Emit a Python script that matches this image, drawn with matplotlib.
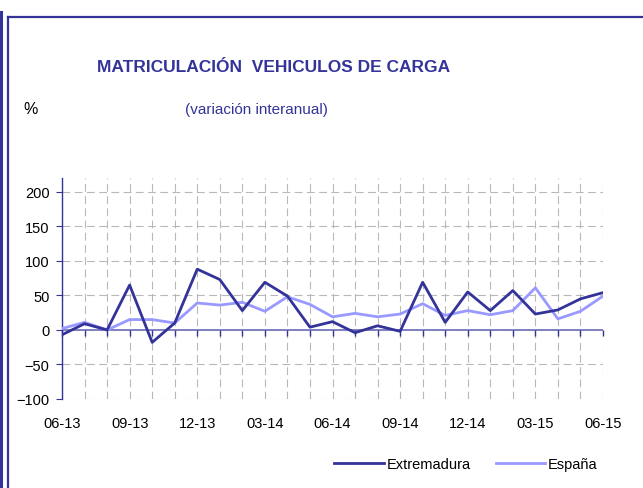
import matplotlib
matplotlib.use('Agg')
import matplotlib.pyplot as plt
from matplotlib.lines import Line2D
from matplotlib.markers import TICKDOWN

plt.rcParams['font.family'] = ['Liberation Sans', 'DejaVu Sans']

# datos (variación interanual, %)
meses = ['06-13', '07-13', '08-13', '09-13', '10-13', '11-13', '12-13',
         '01-14', '02-14', '03-14', '04-14', '05-14', '06-14', '07-14',
         '08-14', '09-14', '10-14', '11-14', '12-14', '01-15', '02-15',
         '03-15', '04-15', '05-15', '06-15']
extremadura = [-7, 9, 0, 65, -18, 10, 88, 73, 28, 69, 49, 4, 12,
               -4, 6, -2, 69, 11, 55, 28, 57, 23, 29, 45, 54]
espana = [2, 11, 0, 15, 15, 10, 39, 36, 40, 27, 48, 37, 19,
          24, 19, 23, 38, 21, 28, 22, 28, 61, 16, 27, 49]
yticks = [-100, -50, 0, 50, 100, 150, 200]

AZUL = '#333399'
AZUL_CLARO = '#9999ff'

W, H = 643, 489
fig = plt.figure(figsize=(W / 100, H / 100), dpi=100)

# marco
fig.add_artist(Line2D([1 / W, 1 / W], [0, 1 - 13 / H], color=AZUL, lw=2.2))
fig.add_artist(Line2D([7.5 / W, 7.5 / W], [0, 1 - 17.5 / H], color=AZUL, lw=1.6))
fig.add_artist(Line2D([7.5 / W, 1], [1 - 17.5 / H, 1 - 17.5 / H], color=AZUL, lw=1.6))

ax = fig.add_axes([62 / W, 1 - 400 / H, 541 / W, 221 / H])
x = list(range(len(meses)))

ax.plot(x, espana, color=AZUL_CLARO, lw=2.0, label='España', zorder=3)
ax.plot(x, extremadura, color=AZUL, lw=2.0, label='Extremadura', zorder=4)

ax.set_xlim(0, len(meses) - 1)
ax.set_ylim(-100, 220)

# rejilla
for xi in x:
    ax.axvline(xi, color='#b8b8b8', lw=0.8, ls=(0, (7, 4)), zorder=1)
for yv in yticks:
    ax.axhline(yv, color='#b8b8b8', lw=0.8, ls=(0, (7, 4)), zorder=1)

# eje en y=0 con marcas mensuales
ax.axhline(0, color='#8080c0', lw=1.4, zorder=2)
ax.plot(x, [0] * len(x), ls='none', marker=TICKDOWN, markersize=4,
        markeredgewidth=1.0, color=AZUL, clip_on=False, zorder=5)

for s in ['top', 'right', 'bottom']:
    ax.spines[s].set_visible(False)
ax.spines['left'].set_color(AZUL)
ax.spines['left'].set_linewidth(1.0)

ax.set_yticks(yticks)
ax.tick_params(axis='y', length=4, color=AZUL, labelsize=10.5, pad=5)
ax.set_xticks(x[::3])
ax.set_xticklabels(meses[::3])
ax.tick_params(axis='x', length=0, labelsize=10.5, pad=12)

fig.text(274 / W, 1 - 68 / H, 'MATRICULACIÓN  VEHICULOS DE CARGA',
         ha='center', va='center', fontsize=12.5, fontweight='bold', color=AZUL)
fig.text(256 / W, 1 - 110 / H, '(variación interanual)',
         ha='center', va='center', fontsize=11, color=AZUL)
fig.text(23 / W, 1 - 110 / H, '%', ha='left', va='center', fontsize=11.5)

h, l = ax.get_legend_handles_labels()
fig.legend(h[::-1], l[::-1], loc='center', bbox_to_anchor=(466 / W, 1 - 465 / H),
           ncol=2, frameon=False, fontsize=10.5, handlelength=3.4,
           handletextpad=0.2, columnspacing=1.7)

fig.savefig('out.png', dpi=100)
